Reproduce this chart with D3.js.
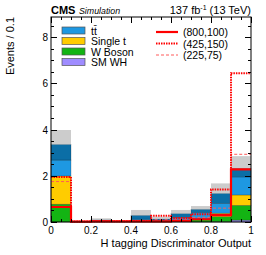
<!DOCTYPE html>
<html><head><meta charset="utf-8">
<script src="https://cdn.jsdelivr.net/npm/d3@7"></script>
<style>body{margin:0;background:#fff}svg{display:block;font-family:"Liberation Sans",Arial,sans-serif}</style>
</head><body>
<script>
// ---- data ----
const binEdges = [0,0.1,0.2,0.3,0.4,0.5,0.6,0.7,0.8,0.9,1.0];
const smWH      = [0.00,0.00,0.00,0.00,0.00,0.00,0.00,0.00,0.01,0.08];
const wBoson    = [0.77,0.00,0.00,0.00,0.02,0.01,0.03,0.10,0.22,0.64];
const singleT   = [1.22,0.00,0.00,0.00,0.00,0.00,0.02,0.03,0.15,0.45];
const ttbar     = [0.69,0.01,0.06,0.02,0.10,0.06,0.15,0.27,0.43,0.78];
const ttOther   = [0.68,0.01,0.04,0.02,0.17,0.07,0.17,0.15,0.43,0.37];
const uncTop    = [3.98,0.03,0.16,0.06,0.52,0.23,0.52,0.69,1.67,2.85];
const sig800_100 = [0.65,0.02,0.03,0.03,0.03,0.03,0.05,0.12,0.30,2.28];
const sig425_150 = [1.95,0.02,0.03,0.03,0.04,0.27,0.17,0.34,1.41,6.44];
const sig225_75  = [1.75,0.03,0.03,0.03,0.04,0.10,0.12,0.20,0.60,2.93];
const xTicks = [0,0.2,0.4,0.6,0.8,1];
const yTicks = [0,2,4,6,8];
const bkgNames = ["t\u0074\u0304","Single t","W Boson","SM WH"];
const sigNames = ["(800,100)","(425,150)","(225,75)"];

const W=266,H=255, L=51,R=251,T=17,B=222;
const svg=d3.select("body").append("svg").attr("width",W).attr("height",H);
const x=d3.scaleLinear().domain([0,1]).range([L,R]);
const y=d3.scaleLinear().domain([0,8.87]).range([B,T]);

const series=[
  {v:smWH,c:"#9f8cff"},
  {v:wBoson,c:"#13b413"},
  {v:singleT,c:"#ffcc00"},
  {v:ttbar,c:"#1e98e2"},
  {v:ttOther,c:"#0b6ea6"}
];
const nb=binEdges.length-1;
const base=new Array(nb).fill(0);
const g=svg.append("g");
series.forEach(s=>{
  for(let i=0;i<nb;i++){
    const v=s.v[i]; if(v<=0) continue;
    g.append("rect").attr("x",x(binEdges[i])).attr("width",x(binEdges[i+1])-x(binEdges[i]))
     .attr("y",y(base[i]+v)).attr("height",y(base[i])-y(base[i]+v))
     .attr("fill",s.c).attr("stroke","rgba(0,0,0,0.35)").attr("stroke-width",0.6);
    base[i]+=v;
  }
});
for(let i=0;i<nb;i++){
  if(uncTop[i]>base[i]) g.append("rect").attr("x",x(binEdges[i])).attr("width",x(binEdges[i+1])-x(binEdges[i]))
    .attr("y",y(uncTop[i])).attr("height",y(base[i])-y(uncTop[i])).attr("fill","#cccccc");
}
function stepPath(v){
  let p="M"+x(binEdges[0])+","+y(v[0]);
  for(let i=0;i<nb;i++){
    if(i>0) p+="V"+y(v[i]);
    p+="H"+x(binEdges[i+1]);
  }
  return p;
}
const sigStyles=[
  {v:sig800_100,c:"#ff0000",w:2.2,d:null},
  {v:sig425_150,c:"#ff0000",w:2,d:"1.5,1"},
  {v:sig225_75,c:"#ff5a5a",w:1,d:"3,2"}
];
[2,1,0].forEach(k=>{const s=sigStyles[k];
  svg.append("path").attr("d",stepPath(s.v)).attr("fill","none").attr("stroke",s.c)
    .attr("stroke-width",s.w).attr("stroke-dasharray",s.d);
});

// frame and ticks
svg.append("rect").attr("x",L).attr("y",T).attr("width",R-L).attr("height",B-T)
  .attr("fill","none").attr("stroke","#000").attr("stroke-width",1);
const tk=svg.append("g").attr("stroke","#000").attr("stroke-width",1);
d3.range(0,1.0001,0.05).forEach(t=>{
  const maj=xTicks.some(m=>Math.abs(m-t)<1e-6), len=maj?6:3, px=Math.round(x(t))+0.5;
  tk.append("line").attr("x1",px).attr("x2",px).attr("y1",B).attr("y2",B-len);
  tk.append("line").attr("x1",px).attr("x2",px).attr("y1",T).attr("y2",T+len);
});
d3.range(0,8.87,0.5).forEach(t=>{
  const maj=yTicks.some(m=>Math.abs(m-t)<1e-6), len=maj?6:3, py=Math.round(y(t))+0.5;
  tk.append("line").attr("x1",L).attr("x2",L+len).attr("y1",py).attr("y2",py);
  tk.append("line").attr("x1",R).attr("x2",R-len).attr("y1",py).attr("y2",py);
});
const fmt=d=>d===0?"0":(d===1?"1":String(d));
xTicks.forEach(t=>svg.append("text").attr("x",x(t)).attr("y",B+12).attr("text-anchor","middle")
  .attr("font-size",10).attr("fill","#000").text(fmt(t)));
yTicks.forEach(t=>svg.append("text").attr("x",L-3).attr("y",y(t)+4).attr("text-anchor","end")
  .attr("font-size",10).attr("fill","#000").text(t));

svg.append("text").attr("x",R).attr("y",247).attr("text-anchor","end").attr("font-size",11).text("H tagging Discriminator Output");
svg.append("text").attr("transform","translate(14,"+T+") rotate(-90)").attr("text-anchor","end").attr("font-size",11).text("Events / 0.1");

svg.append("text").attr("x",L).attr("y",14).attr("font-size",11).attr("font-weight","bold").text("CMS");
svg.append("text").attr("x",79).attr("y",14).attr("font-size",8.8).attr("font-style","italic").text("Simulation");
const lum=svg.append("text").attr("x",R).attr("y",14).attr("text-anchor","end").attr("font-size",11);
lum.append("tspan").text("137 fb");
lum.append("tspan").attr("font-size",7).attr("dy",-4).text("-1");
lum.append("tspan").attr("dy",4).text(" (13 TeV)");

// legend
const legCols=["#1e98e2","#ffcc00","#13b413","#9f8cff"];
bkgNames.forEach((n,i)=>{
  const yy=27+i*10.5;
  svg.append("rect").attr("x",62).attr("y",yy).attr("width",23).attr("height",7)
    .attr("fill",legCols[i]).attr("stroke","#555").attr("stroke-width",0.7);
  svg.append("text").attr("x",91).attr("y",yy+7.5).attr("font-size",10.5).text(n);
});
sigNames.forEach((n,i)=>{
  const yy=32+i*11.5, s=sigStyles[i];
  svg.append("line").attr("x1",156).attr("x2",178).attr("y1",yy).attr("y2",yy)
    .attr("stroke",s.c).attr("stroke-width",s.w).attr("stroke-dasharray",s.d);
  svg.append("text").attr("x",183).attr("y",yy+4).attr("font-size",10.5).text(n);
});
</script>
</body></html>
